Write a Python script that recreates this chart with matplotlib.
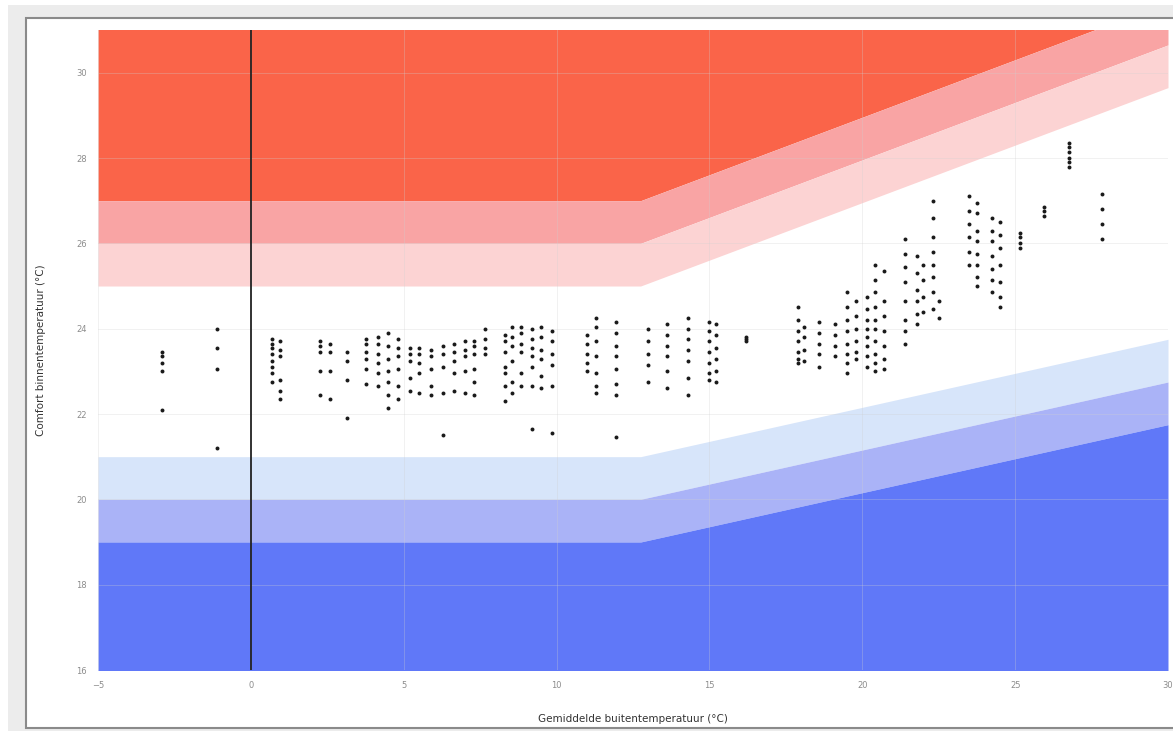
import matplotlib
matplotlib.use('Agg')
import matplotlib.pyplot as plt
from matplotlib.patches import Rectangle
import numpy as np

# limit lines (running mean outdoor temp -> indoor temp limits)
lim_x = [-5, 12.75, 30]
upper_a = [25.0, 25.0, 29.65]
lower_a = [21.0, 21.0, 23.75]
band_step = 1.0

# measured points: one column per day
day_x = [-2.9, -1.1, 0.7, 0.95, 2.25, 2.6, 3.15, 3.75, 4.15, 4.5, 4.8, 5.2, 5.5, 5.9,
         6.3, 6.65, 7.0, 7.3, 7.65, 8.3, 8.55, 8.85, 9.2, 9.5, 9.85, 11.0, 11.3, 11.95,
         13.0, 13.6, 14.3, 15.0, 15.2, 16.2, 17.9, 18.1, 18.6, 19.1, 19.5, 19.8, 20.15,
         20.4, 20.7, 21.4, 21.8, 22.0, 22.3, 22.5, 23.5, 23.75, 24.25, 24.5, 25.15,
         25.95, 26.75, 27.85]
day_t = [
    [23.45, 23.35, 23.2, 23.0, 22.1],
    [24.0, 23.55, 23.05, 21.2],
    [23.75, 23.65, 23.55, 23.4, 23.25, 23.1, 22.95, 22.75],
    [23.7, 23.5, 23.35, 22.8, 22.55, 22.35],
    [23.7, 23.6, 23.45, 23.0, 22.45],
    [23.65, 23.45, 23.0, 22.35],
    [23.45, 23.25, 22.8, 21.9],
    [23.75, 23.65, 23.45, 23.3, 23.05, 22.7],
    [23.8, 23.65, 23.4, 23.2, 22.95, 22.65],
    [23.9, 23.6, 23.3, 23.0, 22.75, 22.45, 22.15],
    [23.75, 23.55, 23.35, 23.05, 22.65, 22.35],
    [23.55, 23.4, 23.25, 22.85, 22.55],
    [23.55, 23.4, 23.2, 22.95, 22.5],
    [23.5, 23.35, 23.05, 22.65, 22.45],
    [23.6, 23.4, 23.1, 22.5, 21.5],
    [23.65, 23.45, 23.25, 22.95, 22.55],
    [23.7, 23.5, 23.35, 23.0, 22.5],
    [23.7, 23.6, 23.4, 23.05, 22.75, 22.45],
    [24.0, 23.75, 23.55, 23.4],
    [23.85, 23.7, 23.45, 23.1, 22.95, 22.65, 22.3],
    [24.05, 23.8, 23.6, 23.25, 22.75, 22.5],
    [24.05, 23.9, 23.65, 23.45, 22.95, 22.65],
    [24.0, 23.75, 23.55, 23.35, 23.1, 22.65, 21.65],
    [24.05, 23.8, 23.5, 23.3, 22.9, 22.6],
    [23.95, 23.7, 23.4, 23.15, 22.65, 21.55],
    [23.85, 23.65, 23.4, 23.2, 23.0],
    [24.25, 24.05, 23.7, 23.35, 22.95, 22.65, 22.5],
    [24.15, 23.9, 23.6, 23.35, 23.05, 22.7, 22.45, 21.45],
    [24.0, 23.7, 23.4, 23.15, 22.75],
    [24.1, 23.85, 23.6, 23.35, 23.0, 22.6],
    [24.25, 24.0, 23.75, 23.5, 23.25, 22.85, 22.45],
    [24.15, 23.95, 23.7, 23.45, 23.2, 22.95, 22.8],
    [24.1, 23.85, 23.55, 23.3, 23.0, 22.75],
    [23.8, 23.75, 23.7],
    [24.5, 24.2, 23.95, 23.7, 23.45, 23.3, 23.2],
    [24.05, 23.8, 23.5, 23.25],
    [24.15, 23.9, 23.65, 23.4, 23.1],
    [24.1, 23.85, 23.6, 23.35],
    [24.85, 24.5, 24.2, 23.95, 23.65, 23.4, 23.2, 22.95],
    [24.65, 24.3, 24.0, 23.7, 23.45, 23.3],
    [24.75, 24.45, 24.2, 24.0, 23.8, 23.6, 23.35, 23.1],
    [25.5, 25.15, 24.85, 24.5, 24.2, 24.0, 23.7, 23.4, 23.2, 23.0],
    [25.35, 24.65, 24.3, 23.95, 23.6, 23.3, 23.05],
    [26.1, 25.75, 25.45, 25.1, 24.65, 24.2, 23.95, 23.65],
    [25.7, 25.3, 24.9, 24.65, 24.35, 24.1],
    [25.5, 25.15, 24.75, 24.4],
    [27.0, 26.6, 26.15, 25.8, 25.5, 25.2, 24.85, 24.45],
    [24.65, 24.25],
    [27.1, 26.75, 26.45, 26.15, 25.8, 25.5],
    [26.95, 26.7, 26.3, 26.05, 25.75, 25.5, 25.2, 25.0],
    [26.6, 26.3, 26.05, 25.7, 25.4, 25.15, 24.85],
    [26.5, 26.2, 25.9, 25.5, 25.1, 24.75, 24.5],
    [26.25, 26.15, 26.0, 25.9],
    [26.85, 26.75, 26.65],
    [28.35, 28.25, 28.15, 28.0, 27.9, 27.8],
    [27.15, 26.8, 26.45, 26.1],
]

x_ticks = [-5, 0, 5, 10, 15, 20, 25, 30]
y_ticks = [16, 18, 20, 22, 24, 26, 28, 30]

pts_x = [x for x, ts in zip(day_x, day_t) for _ in ts]
pts_y = [t for ts in day_t for t in ts]

lx = np.array(lim_x)
ua = np.array(upper_a)
la = np.array(lower_a)
y_lo, y_hi = 16, 31

fig = plt.figure(figsize=(11.73, 7.31), dpi=100)
# window frame around the chart
fig.add_artist(Rectangle((8/1173, 0), 1, 1 - 5/731, transform=fig.transFigure,
                         facecolor='#ececec', edgecolor='none', zorder=-2))
fig.add_artist(Rectangle((26/1173, 3/731), 1, 1 - 21/731, transform=fig.transFigure,
                         facecolor='white', edgecolor='#8a8a8a', lw=1.5, zorder=-1))

ax = fig.add_axes([98/1173, 61/731, 1070/1173, 640/731])

ax.fill_between(lx, ua + 2*band_step, y_hi + 5, color='#fa6449', lw=0)
ax.fill_between(lx, ua + band_step, ua + 2*band_step, color='#f9a4a4', lw=0)
ax.fill_between(lx, ua, ua + band_step, color='#fcd3d3', lw=0)
ax.fill_between(lx, la - band_step, la, color='#d7e5fa', lw=0)
ax.fill_between(lx, la - 2*band_step, la - band_step, color='#aab3f7', lw=0)
ax.fill_between(lx, y_lo - 5, la - 2*band_step, color='#6078f8', lw=0)

ax.set_xticks(x_ticks)
ax.set_yticks(y_ticks)
ax.grid(True, color='#d0d0d0', lw=0.6, alpha=0.35)
ax.set_axisbelow(False)
ax.axvline(0, color='#222222', lw=1.3, zorder=3)

ax.scatter(pts_x, pts_y, s=8, color='#1a1a1a', lw=0, zorder=4)

ax.set_xlim(-5, 30)
ax.set_ylim(y_lo, y_hi)
for s in ax.spines.values():
    s.set_visible(False)
ax.tick_params(length=0, labelsize=6, colors='#8c8c8c', pad=8)

ax.set_xlabel('Gemiddelde buitentemperatuur (°C)', fontsize=7.5, color='#333333', labelpad=17)
ax.set_ylabel('Comfort binnentemperatuur (°C)', fontsize=7.5, color='#333333', labelpad=22)

fig.savefig('out.png', dpi=100)
